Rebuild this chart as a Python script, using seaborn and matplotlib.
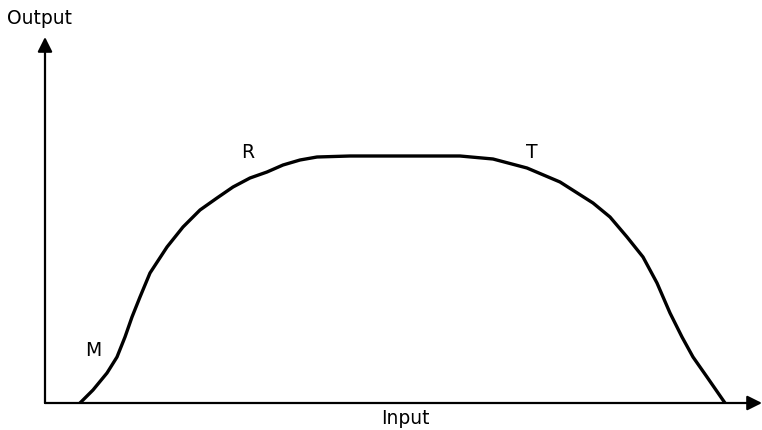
import matplotlib
matplotlib.use("Agg")
import matplotlib.pyplot as plt
import pandas as pd
import seaborn as sns

# ── Data (arbitrary units) ───────────────────────────────────────────────────
input_vals = [3.5, 4.8, 6.2, 7.2, 8.0, 8.7, 9.5, 10.5, 12.2, 13.8, 15.5, 17.2,
              18.8, 20.5, 22.2, 23.8, 25.5, 27.2, 30.5, 35.5, 41.5, 44.8, 48.2,
              51.5, 54.8, 56.5, 58.2, 59.8, 61.2, 62.5, 63.7, 64.8, 66.2, 68.0]
output_vals = [0.0, 1.3, 3.0, 4.6, 6.6, 8.6, 10.6, 13.0, 15.6, 17.6, 19.3, 20.5,
               21.6, 22.5, 23.1, 23.8, 24.3, 24.6, 24.7, 24.7, 24.7, 24.4, 23.5,
               22.1, 20.0, 18.6, 16.6, 14.6, 12.0, 9.0, 6.6, 4.6, 2.6, 0.0]

label_names = ["M", "R", "T"]
label_x = [4.8, 20.3, 48.7]
label_y = [5.3, 25.1, 25.1]

df = pd.DataFrame({"Input": input_vals, "Output": output_vals})

# ── Figure ────────────────────────────────────────────────────────────────────
sns.set_style("white")
plt.rcParams["font.family"] = ["DejaVu Sans"]
plt.rcParams["text.color"] = "black"

fig = plt.figure(figsize=(7.62, 4.30), dpi=100)
ax = fig.add_axes([45 / 762, 27 / 430, 717 / 762, 366 / 430])

sns.lineplot(data=df, x="Input", y="Output", sort=False, color="black",
             linewidth=2.4, ax=ax, solid_joinstyle="round",
             solid_capstyle="round")

ax.set_xlim(0, 71.7)
ax.set_ylim(0, 36.6)
ax.set_xticks([])
ax.set_yticks([])
ax.set_xlabel("")
ax.set_ylabel("")
for s in ax.spines.values():
    s.set_visible(False)

# axis arrows
arrow = dict(arrowstyle="-|>", lw=1.6, color="black", mutation_scale=22,
             shrinkA=0, shrinkB=0)
ax.annotate("", xy=(0, 1), xytext=(0, 0), xycoords="axes fraction",
            arrowprops=arrow, annotation_clip=False)
ax.annotate("", xy=(1, 0), xytext=(0, 0), xycoords="axes fraction",
            arrowprops=arrow, annotation_clip=False)

# axis titles
fig.text(40 / 762, 1 - 19 / 430, "Output", ha="center", va="center",
         fontsize=13.5, color="black")
fig.text(405 / 762, 1 - 418 / 430, "Input", ha="center", va="center",
         fontsize=13.5, color="black")

# point labels
for name, lx, ly in zip(label_names, label_x, label_y):
    ax.text(lx, ly, name, ha="center", va="center", fontsize=13.5, color="black")

plt.savefig("out.png", dpi=100)
plt.close()
